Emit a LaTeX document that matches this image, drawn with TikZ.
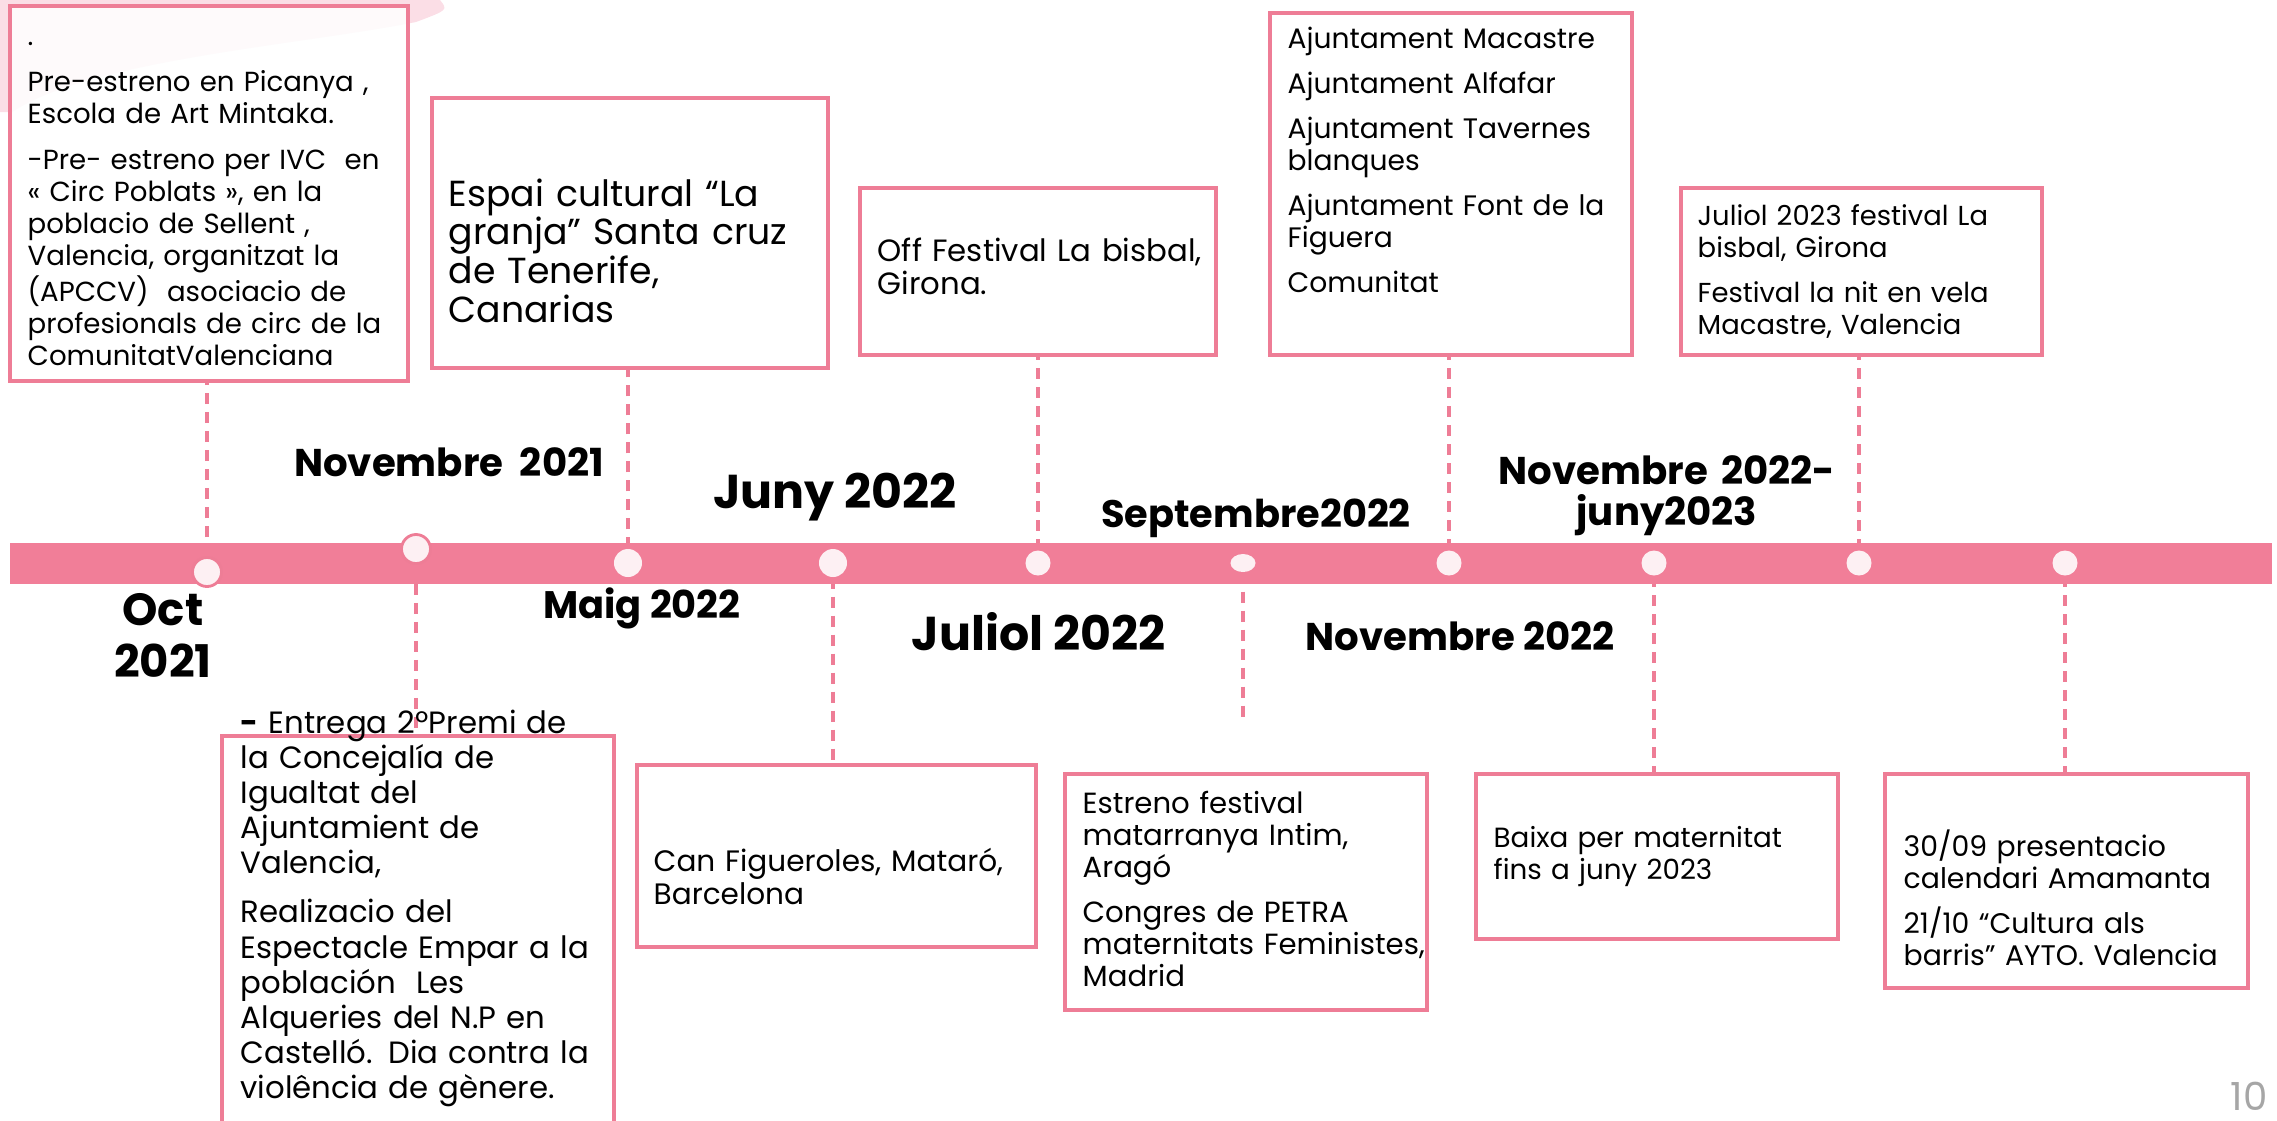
\documentclass[tikz,border=0pt]{standalone}
\usepackage{fontspec}
\setmainfont{Poppins}
\usetikzlibrary{positioning,shapes.geometric,backgrounds}

\definecolor{barpink}{RGB}{241,126,152}
\definecolor{linepink}{RGB}{238,125,150}
\definecolor{dotfill}{RGB}{253,240,243}
\definecolor{washpink}{RGB}{251,222,230}
\definecolor{pagegray}{RGB}{166,166,166}

\tikzset{
  evframe/.style={draw=linepink, line width=1pt, fill=white, rectangle, anchor=north west, inner sep=0pt},
  evtext/.style={text width=4.4cm, align=left, anchor=base west, inner sep=0pt, font=\fontsize{8}{9.1}\selectfont},
  datelabel/.style={anchor=base, inner sep=0pt, font=\bfseries\fontsize{11}{11.7}\selectfont},
  stem/.style={draw=linepink, line width=1pt, dash pattern=on 3.1pt off 2.3pt},
  mdot/.style={circle, fill=dotfill, inner sep=0pt, minimum size=0.25cm},
}

\begin{document}
\begin{tikzpicture}[x=0.01cm, y=-0.01cm]
\useasboundingbox (0,0) rectangle (2277,1120);

% brush stroke behind the first box
\begin{scope}[on background layer]
\fill[washpink] (0,0) -- (440,0) .. controls (448,10) .. (416,22)
  .. controls (300,45) and (90,60) .. (12,112) -- (0,112) -- cycle;
\end{scope}

% the time line
\fill[barpink] (10,543) rectangle (2272,584);

\node[mdot, minimum size=0.29cm, draw=linepink, line width=0.8pt] (d1) at (207,572) {};
\node[mdot, minimum size=0.29cm, draw=linepink, line width=0.8pt] (d2) at (416,549) {};
\node[mdot, minimum size=0.28cm] (d3) at (628,563) {};
\node[mdot, minimum size=0.28cm] (d4) at (833,563) {};
\node[mdot] (d5) at (1038,563) {};
\node[mdot, ellipse, minimum width=0.25cm, minimum height=0.18cm] (d6) at (1243,563) {};
\node[mdot] (d7) at (1449,563) {};
\node[mdot] (d8) at (1654,563) {};
\node[mdot] (d9) at (1859,563) {};
\node[mdot] (d10) at (2065,563) {};

% boxes
\node[evframe, fill opacity=0.85, minimum width=3.98cm, minimum height=3.75cm] (f1) at (8,4) {};
\node[evframe, minimum width=3.92cm, minimum height=4cm] (f2) at (220,734) {};
\node[evframe, minimum width=3.96cm, minimum height=2.7cm] (f3) at (430,96) {};
\node[evframe, minimum width=3.99cm, minimum height=1.82cm] (f4) at (635,763) {};
\node[evframe, minimum width=3.56cm, minimum height=1.67cm] (f5) at (858,186) {};
\node[evframe, minimum width=3.62cm, minimum height=2.36cm] (f6) at (1063,772) {};
\node[evframe, minimum width=3.62cm, minimum height=3.42cm] (f7) at (1268,11) {};
\node[evframe, minimum width=3.62cm, minimum height=1.65cm] (f8) at (1474,772) {};
\node[evframe, minimum width=3.61cm, minimum height=1.67cm] (f9) at (1679,186) {};
\node[evframe, minimum width=3.63cm, minimum height=2.14cm] (f10) at (1883,772) {};
\coordinate (c6end) at (1243,717);

% connectors
\begin{scope}[on background layer]
\draw[stem] (d1) -- (d1 |- f1.south);
\draw[stem] (d2) -- (d2 |- f2.north);
\draw[stem] (d3) -- (d3 |- f3.south);
\draw[stem] (d4) -- (d4 |- f4.north);
\draw[stem] (d5) -- (d5 |- f5.south);
\draw[stem] (d6) -- (c6end);
\draw[stem] (d7) -- (d7 |- f7.south);
\draw[stem] (d8) -- (d8 |- f8.north);
\draw[stem] (d9) -- (d9 |- f9.south);
\draw[stem] (d10) -- (d10 |- f10.north);
\end{scope}

% texts
\node[evtext, font=\fontsize{7.85}{9.1}\selectfont] (t1) at (27,45) {.\\[4pt]
  Pre-estreno en Picanya ,\\
  Escola de Art Mintaka.\\[4pt]
  -Pre- estreno per IVC\ \ en\\
  « Circ Poblats », en la\\
  poblacio de Sellent ,\\
  Valencia, organitzat la\\
  (APCCV)\ \ asociacio de\\
  profesionals de circ de la\\
  ComunitatValenciana};
\node[evtext, font=\fontsize{8.75}{10}\selectfont] (t2) at (240,733) {\textbf{-} Entrega 2ºPremi de\\
  la Concejalía de\\
  Igualtat del\\
  Ajuntamient de\\
  Valencia,\\[4pt]
  Realizacio del\\
  Espectacle Empar a la\\
  población\ \ Les\\
  Alqueries del N.P en\\
  Castelló. Dia contra la\\
  violência de gènere.};
\node[evtext, font=\fontsize{10.3}{11}\selectfont] (t3) at (448,206) {Espai cultural “La\\
  granja” Santa cruz\\
  de Tenerife,\\
  Canarias};
\node[evtext, font=\fontsize{8.4}{9.6}\selectfont] (t4) at (653,871) {Can Figueroles, Mataró,\\ Barcelona};
\node[evtext, font=\fontsize{8.75}{9.6}\selectfont] (t5) at (877,261) {Off Festival La bisbal,\\ Girona.};
\node[evtext, font=\fontsize{8.3}{9.1}\selectfont] (t6) at (1082,813) {Estreno festival\\
  matarranya Intim,\\
  Aragó\\[3.7pt]
  Congres de PETRA\\
  maternitats Feministes,\\
  Madrid};
\node[evtext] (t7) at (1287,48) {Ajuntament Macastre\\[3.7pt]
  Ajuntament Alfafar\\[3.7pt]
  Ajuntament Tavernes\\
  blanques\\[3.7pt]
  Ajuntament Font de la\\
  Figuera\\[3.7pt]
  Comunitat};
\node[evtext, font=\fontsize{7.9}{9.1}\selectfont] (t8) at (1493,847) {Baixa per maternitat\\ fins a juny 2023};
\node[evtext, font=\fontsize{7.8}{9.1}\selectfont] (t9) at (1697,225) {Juliol 2023 festival La\\
  bisbal, Girona\\[3.7pt]
  Festival la nit en vela\\
  Macastre, Valencia};
\node[evtext, font=\fontsize{8.05}{9.1}\selectfont] (t10) at (1903,856) {30/09 presentacio\\
  calendari Amamanta\\[3.7pt]
  21/10 “Cultura als\\
  barris” AYTO. Valencia};

% dates
\node[datelabel, text width=2cm, align=center, font=\bfseries\fontsize{12.8}{14.8}\selectfont] (oct21) at (163,625) {Oct\\ 2021};
\node[datelabel] (nov21) at (449,476) {Novembre\ \ 2021};
\node[datelabel, font=\bfseries\fontsize{10.9}{12}\selectfont] (mai22) at (642,618) {Maig 2022};
\node[datelabel, font=\bfseries\fontsize{13.5}{15}\selectfont] (jun22) at (835,508) {Juny 2022};
\node[datelabel, font=\bfseries\fontsize{13.5}{15}\selectfont] (jul22) at (1039,650) {Juliol 2022};
\node[datelabel, font=\bfseries\fontsize{10.9}{12}\selectfont] (sep22) at (1256,527) {Septembre2022};
\node[datelabel] (nov22) at (1460,650) {Novembre 2022};
\node[datelabel, text width=4cm, align=center] (nov22jun23) at (1667,484) {Novembre 2022-\\ juny2023};

\node[anchor=base west, inner sep=0pt, text=pagegray, font=\fontsize{11}{12}\selectfont] (pgnum) at (2230,1110) {10};
\end{tikzpicture}
\end{document}
